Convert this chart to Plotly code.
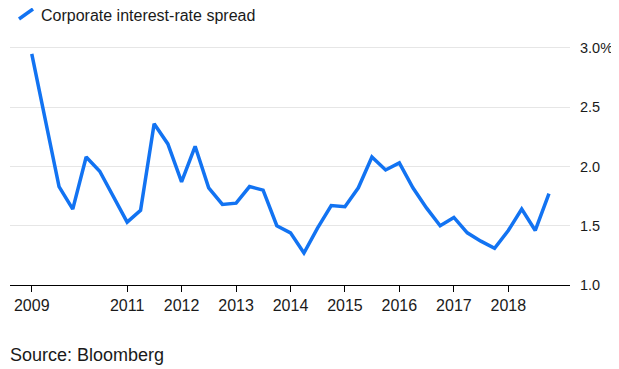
import plotly.graph_objects as go
import pandas as pd

# Quarterly observations, 2009 Q2 .. 2018 Q4
dates = pd.date_range("2009-04-01", periods=39, freq="QS").strftime("%Y-%m-%d").tolist()
spread = [2.95, 2.38, 1.83, 1.64, 2.08, 1.96, 1.75, 1.53, 1.63, 2.36,
          2.19, 1.87, 2.17, 1.82, 1.68, 1.69, 1.83, 1.80, 1.50, 1.44,
          1.27, 1.48, 1.67, 1.66, 1.82, 2.08, 1.97, 2.03, 1.82, 1.65,
          1.50, 1.57, 1.44, 1.37, 1.31, 1.46, 1.64, 1.46, 1.77]

x_tick_vals = ["2009-04-01", "2011-01-01", "2012-01-01", "2013-01-01", "2014-01-01",
               "2015-01-01", "2016-01-01", "2017-01-01", "2018-01-01"]
x_tick_text = ["2009", "2011", "2012", "2013", "2014", "2015", "2016", "2017", "2018"]
y_tick_vals = [1.0, 1.5, 2.0, 2.5, 3.0]
y_tick_text = ["1.0", "1.5", "2.0", "2.5", "3.0%"]

series_name = "Corporate interest-rate spread"
source_text = "Source: Bloomberg"

BLUE = "#1273f2"
FONT = "Liberation Sans, Arial, sans-serif"
TXT = "#1a1a1a"

fig = go.Figure()
fig.add_trace(go.Scatter(x=dates, y=spread, mode="lines", name=series_name,
                         line=dict(color=BLUE, width=3.5), showlegend=False))

# page body has an 8px margin, so the figure is 8px smaller and offset
fig.update_layout(
    width=611, height=361,
    margin=dict(l=2, r=49, t=28, b=84, autoexpand=False),
    paper_bgcolor="white", plot_bgcolor="white",
    font=dict(family=FONT, color=TXT),
    xaxis=dict(
        type="date", range=["2008-11-06", "2019-02-19"],
        tickvals=x_tick_vals, ticktext=x_tick_text,
        ticks="outside", ticklen=6, tickcolor="black", tickwidth=1,
        showline=True, linecolor="black", linewidth=1,
        showgrid=False, zeroline=False,
        tickfont=dict(size=16, color=TXT, family=FONT),
    ),
    yaxis=dict(
        side="right", range=[1.0, 3.1],
        tickvals=y_tick_vals, ticktext=y_tick_text,
        ticks="", ticklabelstandoff=9,
        showgrid=True, gridcolor="#e6e6e6", gridwidth=1,
        zeroline=False, showline=False,
        tickfont=dict(size=14.5, color=TXT, family=FONT),
    ),
)

# legend-like key: slanted line + label
fig.add_shape(type="line", xref="paper", yref="paper",
              x0=9 / 560, y0=266 / 249, x1=23 / 560, y1=276 / 249,
              line=dict(color=BLUE, width=3.5))
fig.add_annotation(xref="paper", yref="paper", x=29 / 560, y=270 / 249,
                   xanchor="left", yanchor="middle", showarrow=False,
                   text=series_name, font=dict(size=16, color=TXT, family=FONT))
fig.add_annotation(xref="paper", yref="paper", x=-2 / 560, y=-70 / 249,
                   xanchor="left", yanchor="middle", showarrow=False,
                   text=source_text, font=dict(size=18, color=TXT, family=FONT))

fig.write_html("out.html")
